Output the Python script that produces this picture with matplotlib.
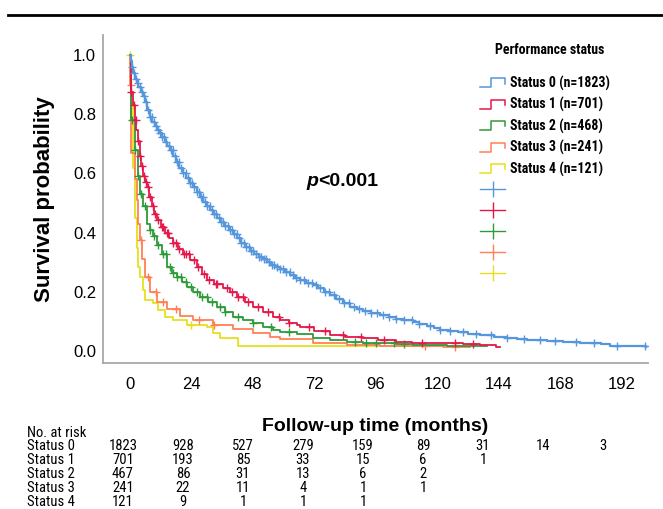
import matplotlib
matplotlib.use("Agg")
import matplotlib.pyplot as plt
import numpy as np
from matplotlib.lines import Line2D
from matplotlib.legend_handler import HandlerBase
from matplotlib import font_manager

# ---- data ----
groups = ["Status 0", "Status 1", "Status 2", "Status 3", "Status 4"]
group_n = [1823, 701, 468, 241, 121]

status0_t = [0, 0.4, 0.7, 1.3, 2.0, 2.6, 3.3, 4.2, 5.1, 5.8, 6.8, 7.8, 8.8, 9.8, 10.7, 11.7,
             12.6, 13.6, 14.6, 15.6, 16.8, 18, 19.3, 20.7, 22, 23.3, 24.6, 26, 27.3, 28.6, 30,
             31.3, 32.6, 33.9, 35.4, 36.9, 38.5, 40.2, 41.8, 43.5, 45, 46.8, 48.5, 50.2, 51.8,
             53.5, 55, 56.8, 58.5, 60.5, 62.5, 64.5, 66.3, 68.9, 71.5, 73.5, 75.8, 78, 80.5, 83,
             85.9, 88.5, 91, 94, 97.6, 101, 104, 107, 110.6, 113, 116, 118.5, 121, 124.5, 128,
             132, 136.6, 142, 147, 151, 155, 159, 162.6, 169, 175.6, 180, 184, 187.3, 201.6]
status0_s = [1.0, 0.98, 0.96, 0.94, 0.92, 0.905, 0.89, 0.875, 0.86, 0.84, 0.815, 0.79, 0.775,
             0.76, 0.748, 0.737, 0.722, 0.706, 0.692, 0.68, 0.66, 0.64, 0.62, 0.60, 0.585, 0.568,
             0.553, 0.536, 0.52, 0.505, 0.49, 0.476, 0.462, 0.45, 0.437, 0.424, 0.41, 0.395,
             0.381, 0.367, 0.353, 0.34, 0.33, 0.32, 0.31, 0.30, 0.292, 0.285, 0.278, 0.268,
             0.258, 0.248, 0.24, 0.232, 0.224, 0.214, 0.202, 0.19, 0.178, 0.165, 0.151, 0.142,
             0.135, 0.129, 0.123, 0.116, 0.11, 0.105, 0.10, 0.093, 0.085, 0.078, 0.072, 0.068,
             0.064, 0.06, 0.056, 0.05, 0.044, 0.042, 0.04, 0.038, 0.036, 0.033, 0.030, 0.028,
             0.026, 0.018, 0.016]
status0_cens = [0.8, 1.5, 2.3, 3.0, 3.8, 4.6, 5.4, 6.2, 7.1, 7.9, 8.6, 9.4, 10.2, 11.0, 11.9,
                12.7, 13.5, 14.2, 15.1, 15.9, 16.7, 17.6, 18.4, 19.2, 20.1, 20.9, 21.8, 22.6,
                23.4, 24.3, 25.1, 26.0, 26.8, 27.7, 28.5, 29.4, 30.2, 31.1, 32.0, 32.8, 33.7,
                34.6, 35.4, 36.3, 37.2, 38.1, 39.0, 39.9, 40.8, 41.7, 42.6, 43.5, 44.4, 45.4,
                46.3, 47.3, 48.2, 49.2, 50.2, 51.2, 52.2, 53.2, 54.3, 55.3, 56.4, 57.5, 58.6,
                59.8, 61, 62.3, 63.6, 65, 66.4, 67.9, 69.4, 71, 72.6, 74.3, 76, 77.8, 79.6,
                81.5, 83.4, 85.4, 87.5, 89.6, 91.8, 94, 96.3, 98.7, 101, 104, 107, 110, 113,
                117, 121, 125, 130, 135, 141, 147, 154, 160, 166, 174, 181, 190, 201]

status1_t = [0, 0.5, 1.2, 1.9, 2.5, 3.1, 3.9, 4.5, 5.1, 5.8, 6.6, 7.6, 8.6, 9.5, 10.5, 12, 13.7,
             15.2, 16.8, 18.8, 20.7, 23.4, 26.1, 28, 30, 33, 36.3, 39, 41.8, 45, 48, 52, 55.8,
             58.5, 62, 65.2, 66.3, 72, 78, 84, 90.9, 97, 104, 110, 117, 124, 130, 136.6, 143, 144.4]
status1_s = [1.0, 0.876, 0.83, 0.78, 0.745, 0.71, 0.66, 0.625, 0.59, 0.57, 0.555, 0.52, 0.49,
             0.465, 0.443, 0.42, 0.40, 0.382, 0.365, 0.347, 0.33, 0.308, 0.285, 0.262, 0.24,
             0.227, 0.214, 0.2, 0.184, 0.166, 0.15, 0.133, 0.117, 0.106, 0.097, 0.09, 0.083,
             0.07, 0.056, 0.05, 0.045, 0.038, 0.032, 0.03, 0.029, 0.027, 0.025, 0.022, 0.015,
             0.015]
status1_cens = [0.6, 1.5, 2.2, 3.2, 4, 4.8, 5.5, 6.2, 6.9, 8, 8.9, 9.8, 11, 12.5, 13, 14.5, 15,
                17, 18, 19, 21, 22, 23, 25, 26.5, 29, 31, 33.5, 34, 38, 40, 42, 44, 46, 50, 54,
                58, 62, 70, 76, 83, 90, 99, 114, 127, 134]

status2_t = [0, 0.6, 1.9, 3.1, 3.9, 5.1, 6.6, 7.8, 9, 10.7, 12.5, 14.4, 16.4, 18.3, 20.2, 22.2,
             24.8, 27.3, 30.6, 34, 37, 40.2, 44, 48, 52, 55.8, 58.5, 65.2, 71.4, 78, 84.7, 91,
             97.6, 104, 110.4, 123.7, 139.3]
status2_s = [1.0, 0.78, 0.68, 0.59, 0.53, 0.49, 0.43, 0.41, 0.39, 0.36, 0.33, 0.285, 0.265,
             0.25, 0.233, 0.218, 0.2, 0.184, 0.167, 0.15, 0.133, 0.117, 0.106, 0.095, 0.083,
             0.072, 0.066, 0.06, 0.045, 0.038, 0.032, 0.03, 0.029, 0.025, 0.022, 0.019, 0.019]
status2_cens = [0.7, 2, 3.3, 4.5, 6, 8, 9.5, 11, 12.8, 14, 15.5, 17, 18.5, 20, 22, 24, 26, 28,
                30, 32, 35, 37, 42, 48, 55, 62, 88, 92, 96, 103, 107]

status3_t = [0, 0.2, 0.5, 1.9, 2.7, 3.1, 3.9, 4.7, 5.9, 7.8, 10.5, 14.4, 19.5, 24.6, 32.4,
             40.2, 48, 54.6, 58.5, 71.4, 84.7, 97.6, 122, 132.7]
status3_s = [1.0, 0.9, 0.67, 0.58, 0.51, 0.43, 0.376, 0.31, 0.25, 0.2, 0.168, 0.143, 0.12,
             0.106, 0.09, 0.075, 0.062, 0.05, 0.042, 0.029, 0.022, 0.019, 0.015, 0.015]
status3_cens = [0.4, 4.5, 7, 10, 13, 18, 27, 33, 115, 127]

status4_t = [0, 0.6, 1.2, 1.95, 2.7, 3.1, 3.9, 5.1, 5.9, 9, 10.9, 13.7, 16.8, 22.2, 30, 32.4,
             35.1, 42.1, 118]
status4_s = [1.0, 0.85, 0.62, 0.45, 0.35, 0.285, 0.25, 0.207, 0.174, 0.163, 0.14, 0.117, 0.106,
             0.09, 0.083, 0.062, 0.045, 0.02, 0.02]
status4_cens = [0, 24]

risk_times = [0, 24, 48, 72, 96, 120, 144, 168, 192]
risk_status0 = [1823, 928, 527, 279, 159, 89, 31, 14, 3]
risk_status1 = [701, 193, 85, 33, 15, 6, 1]
risk_status2 = [467, 86, 31, 13, 6, 2]
risk_status3 = [241, 22, 11, 4, 1, 1]
risk_status4 = [121, 9, 1, 1, 1]

colors = ["#5596dc", "#e4184a", "#2f9a3a", "#ff8055", "#e6df1e"]

# ---- fonts ----
plt.rcParams["font.family"] = ["Liberation Sans", "DejaVu Sans"]
names = {f.name for f in font_manager.fontManager.ttflist}
narrow_name = None
for cand in ["Liberation Sans Narrow", "Arial Narrow", "Roboto Condensed", "PT Sans Narrow",
             "Archivo Narrow", "Open Sans Condensed", "Fira Sans Condensed"]:
    if cand in names:
        narrow_name = cand
        break
if narrow_name:
    narrow = [narrow_name, "Liberation Sans"]
    narrow_scale = 1.0
else:
    narrow = ["Liberation Sans"]
    narrow_scale = 0.85


class StepHandler(HandlerBase):
    def create_artists(self, legend, orig_handle, xdescent, ydescent, width, height, fontsize, trans):
        x0, y0 = -xdescent, -ydescent
        xs = [x0, x0 + 0.45 * width, x0 + 0.45 * width, x0 + width, x0 + width]
        ys = [y0 + 0.2 * height, y0 + 0.2 * height, y0 + 0.8 * height, y0 + 0.8 * height, y0 + 0.45 * height]
        ln = Line2D(xs, ys, color=orig_handle.get_color(), lw=1.1, transform=trans)
        return [ln]


W, H = 663, 509
fig = plt.figure(figsize=(W / 100, H / 100), dpi=100)
ax = fig.add_axes([103 / W, 1 - 363 / H, 545 / W, 328 / H])

curves = [(status0_t, status0_s, status0_cens), (status1_t, status1_s, status1_cens),
          (status2_t, status2_s, status2_cens), (status3_t, status3_s, status3_cens),
          (status4_t, status4_s, status4_cens)]

# draw low groups first so blue sits on top like the reference
for i in [4, 3, 2, 1, 0]:
    t, s, cens = curves[i]
    t = np.array(t)
    s = np.array(s)
    lw = 1.6 if i == 0 else 1.3
    ax.step(t, s, where="post", color=colors[i], lw=lw, zorder=3 + (4 - i))
    idx = np.searchsorted(t, np.array(cens), side="right") - 1
    ax.plot(cens, s[idx], linestyle="none", marker="+", ms=6, mew=1.0,
            color=colors[i], zorder=3 + (4 - i))

ax.set_xlim(-10.5, 202.2)
ax.set_ylim(-0.039, 1.067)
ax.set_xticks(risk_times)
ax.set_yticks([0, 0.2, 0.4, 0.6, 0.8, 1.0])
ax.set_yticklabels(["%.1f" % v for v in [0, 0.2, 0.4, 0.6, 0.8, 1.0]])
ax.tick_params(length=0, labelsize=12)
ax.tick_params(axis="x", pad=10)
ax.tick_params(axis="y", pad=5)
for sp in ["top", "right"]:
    ax.spines[sp].set_visible(False)
for sp in ["left", "bottom"]:
    ax.spines[sp].set_color("#a8a8a8")
    ax.spines[sp].set_linewidth(1.3)

ax.set_ylabel("Survival probability", fontsize=16, fontweight="bold")
ax.yaxis.set_label_coords(-(103 - 55) / 545, 0.5)
ax.set_xlabel("Follow-up time (months)", fontsize=14, fontweight="bold")
ax.xaxis.set_label_coords(0.5, -(418 - 363) / 328)

# p value
fig.text(318 / W, 1 - 181 / H, "p", fontsize=14, fontweight="bold", fontstyle="italic",
         ha="right", va="center")
fig.text(318 / W, 1 - 181 / H, "<0.001", fontsize=14, fontweight="bold", ha="left", va="center")

# legend
leg_size = 10 * narrow_scale
leg_font = {"family": narrow, "weight": "bold", "size": leg_size}
fig.text(550 / W, 1 - 50 / H, "Performance status", ha="center", va="center",
         fontfamily=narrow, fontweight="bold", fontsize=leg_size)
handles = []
labels = []
for i in range(5):
    handles.append(Line2D([], [], color=colors[i]))
    labels.append("%s (n=%d)" % (groups[i], group_n[i]))
for i in range(5):
    handles.append(Line2D([0], [0], color=colors[i], lw=1.0, marker="|", ms=11, mew=1.0))
    labels.append(" ")
handler_map = {h: StepHandler() for h in handles[:5]}
fs_px = leg_size * 100 / 72
leg = ax.legend(handles, labels, handler_map=handler_map, loc="upper left",
                bbox_to_anchor=((480 - 103) / 545, (363 - 75.5) / 328), frameon=False,
                prop=leg_font, handlelength=25 / fs_px, handleheight=1.25,
                handletextpad=5 / fs_px, labelspacing=(23.5 - 1.25 * fs_px) / fs_px,
                borderpad=0, borderaxespad=0, numpoints=1)

# top rule
fig.add_artist(Line2D([8 / W, 1], [1 - 15 / H, 1 - 15 / H], color="black", lw=2))

# number at risk table
tab_font = {"family": narrow, "size": 10.5 * narrow_scale}
fig.text(27 / W, 1 - 433 / H, "No. at risk", ha="left", va="center", **tab_font)
risk_rows = [risk_status0, risk_status1, risk_status2, risk_status3, risk_status4]
for r, row in enumerate(risk_rows):
    y = 1 - (446.5 + 13.9 * r) / H
    fig.text(27 / W, y, groups[r], ha="left", va="center", **tab_font)
    for tm, val in zip(risk_times, row):
        xpx = 123 + tm * 2.5
        fig.text(xpx / W, y, str(val), ha="center", va="center", **tab_font)

fig.savefig("out.png", dpi=100)
